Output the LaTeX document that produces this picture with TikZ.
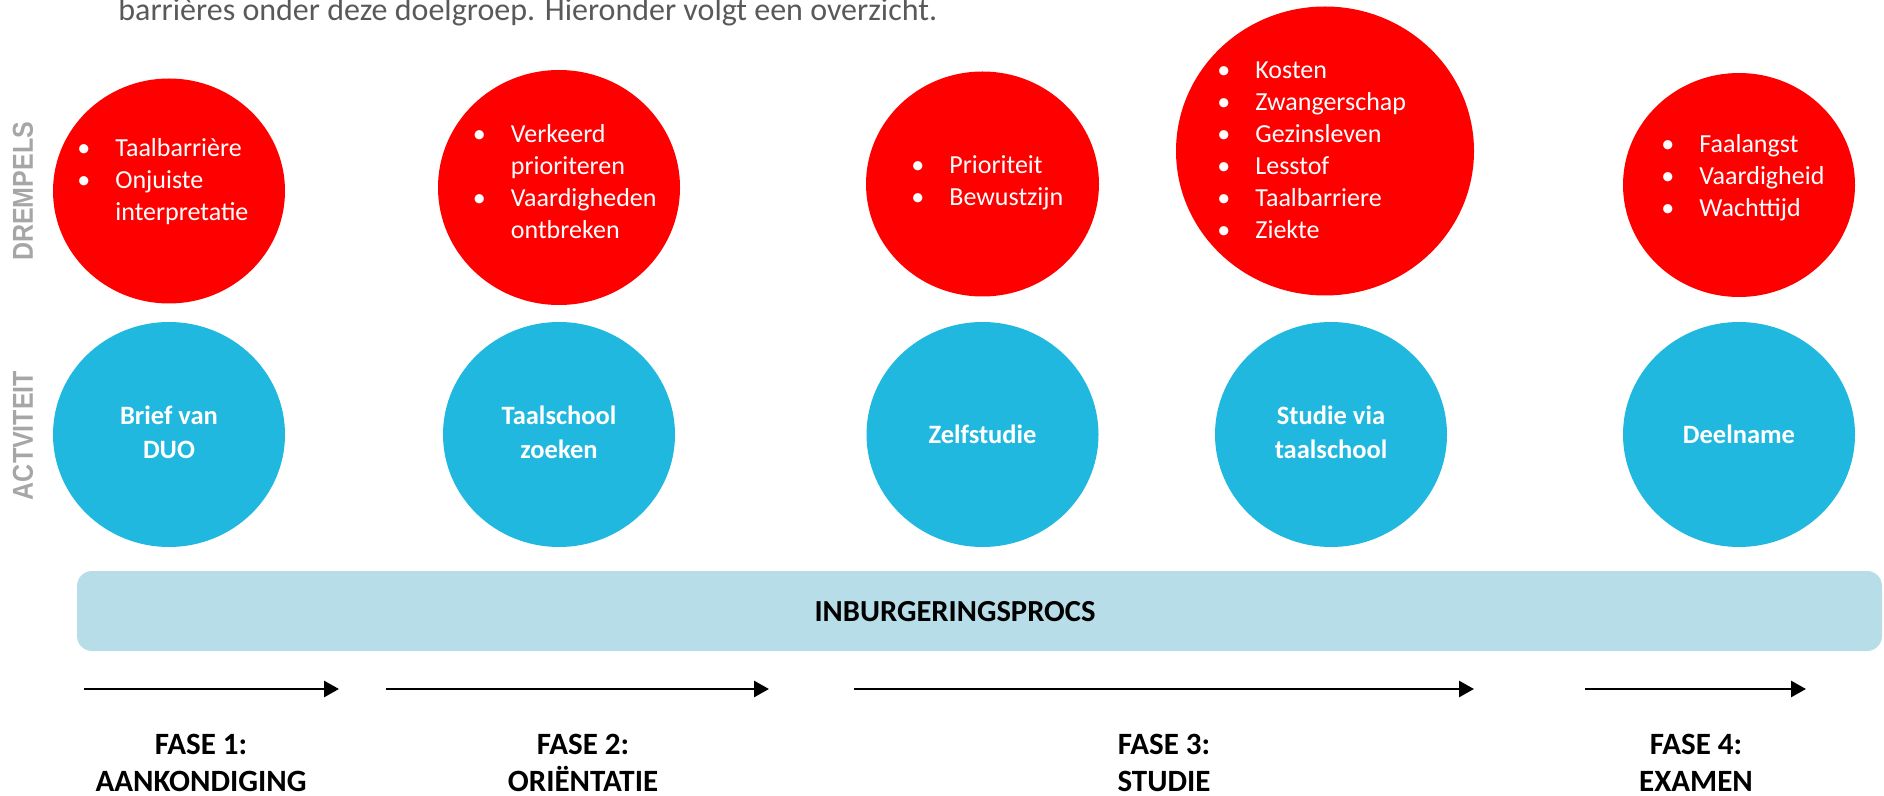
\documentclass[tikz,border=0pt]{standalone}
\usepackage{fontspec}
\setmainfont{Carlito}
\newfontfamily\zijfont{Liberation Sans}
\usetikzlibrary{arrows.meta,shapes.geometric}
\definecolor{drempelrood}{HTML}{FF0000}
\definecolor{activiteitblauw}{HTML}{21B8E0}
\definecolor{balkblauw}{HTML}{B7DEE8}
\definecolor{labelgrijs}{HTML}{A6A6A6}
\definecolor{tekstgrijs}{HTML}{595959}
\newcommand{\punt}{\makebox[19pt][l]{\textbullet}}
\newcommand{\geenpunt}{\hspace*{19pt}}
\newcommand{\regels}[1]{\begin{tabular}[t]{@{}l@{}}#1\end{tabular}}
\newcommand{\midden}[1]{\begin{tabular}[t]{@{}c@{}}#1\end{tabular}}
\newcommand{\hoog}[1]{\scalebox{1}[1.15]{#1}}
\tikzset{
  drempel/.style={ellipse, fill=drempelrood, inner sep=0pt},
  activiteit/.style={ellipse, fill=activiteitblauw, inner sep=0pt, text=white,
    minimum width=116pt, minimum height=112.5pt, font=\bfseries\fontsize{13.25}{17}\selectfont},
  lijst/.style={anchor=base west, inner sep=0pt, text=white, font=\fontsize{13}{16}\selectfont},
  rij/.style={rotate=90, text=labelgrijs, inner sep=0pt, font=\zijfont\bfseries\fontsize{12.5}{15}\selectfont},
  fase/.style={anchor=base, inner sep=0pt, font=\bfseries\fontsize{15.5}{18.5}\selectfont},
  pijl/.style={line width=1.4pt, -{Triangle[length=7.5pt,width=8pt]}}
}
\begin{document}
\begin{tikzpicture}[x=0.5pt,y=-0.5pt]
    \useasboundingbox (0,0) rectangle (1884,796);
    % inleidende tekst
    \node [anchor=base west, inner sep=0pt, text=tekstgrijs, font=\fontsize{16}{19}\selectfont] (inleiding) at (118,21) {barrières onder deze doelgroep. Hieronder volgt een overzicht.};
    % rijen
    \node [rij] (drempels) at (23,191.5) {\hoog{DREMPELS}};
    \node [rij] (activiteit) at (23,435.5) {\hoog{ACTVITEIT}};
    % drempels
    \node [drempel, minimum width=116pt, minimum height=112.5pt] (d1) at (169,191) {};
    \node [drempel, minimum width=121pt, minimum height=117.5pt] (d2) at (559,187.5) {};
    \node [drempel, minimum width=116.5pt, minimum height=112.5pt] (d3) at (982.5,184) {};
    \node [drempel, minimum width=149pt, minimum height=144.5pt] (d4) at (1325,151) {};
    \node [drempel, minimum width=116pt, minimum height=112pt] (d5) at (1739,185) {};
    \node [lijst] (l1) at (77,157) {\regels{\punt Taalbarrière\\ \punt Onjuiste\\ \geenpunt interpretatie}};
    \node [lijst] (l2) at (472.5,143) {\regels{\punt Verkeerd\\ \geenpunt prioriteren\\ \punt Vaardigheden\\ \geenpunt ontbreken}};
    \node [lijst] (l3) at (911,174) {\regels{\punt Prioriteit\\ \punt Bewustzijn}};
    \node [lijst] (l4) at (1217,79) {\regels{\punt Kosten\\ \punt Zwangerschap\\ \punt Gezinsleven\\ \punt Lesstof\\ \punt Taalbarriere\\ \punt Ziekte}};
    \node [lijst] (l5) at (1661,153) {\regels{\punt Faalangst\\ \punt Vaardigheid\\ \punt Wachttijd}};
    % activiteiten
    \node [activiteit] (a1) at (169,434.5) {\midden{Brief van\\ DUO}};
    \node [activiteit] (a2) at (559,434.5) {\midden{Taalschool\\ zoeken}};
    \node [activiteit] (a3) at (982.5,434.5) {Zelfstudie};
    \node [activiteit] (a4) at (1331,434.5) {\midden{Studie via\\ taalschool}};
    \node [activiteit] (a5) at (1739,434.5) {Deelname};
    % balk
    \node [fill=balkblauw, rounded corners=7.5pt, minimum width=902.5pt, minimum height=40pt, inner sep=0pt] (balk) at (979.5,611) {};
    \node [inner sep=0pt, font=\bfseries\fontsize{15.3}{18}\selectfont] (proces) at (955,612) {INBURGERINGSPROCS};
    % fasen
    \coordinate (f1a) at (84,689);
    \coordinate (f1b) at (339,689);
    \coordinate (f2a) at (386,689);
    \coordinate (f2b) at (769,689);
    \coordinate (f3a) at (854,689);
    \coordinate (f3b) at (1474,689);
    \coordinate (f4a) at (1585,689);
    \coordinate (f4b) at (1806,689);
    \draw [pijl] (f1a)--(f1b);
    \draw [pijl] (f2a)--(f2b);
    \draw [pijl] (f3a)--(f3b);
    \draw [pijl] (f4a)--(f4b);
    \node [fase] (fase1) at (201,754) {\midden{FASE 1:\\ AANKONDIGING}};
    \node [fase] (fase2) at (583,754) {\midden{FASE 2:\\ ORIËNTATIE}};
    \node [fase] (fase3) at (1164,754) {\midden{FASE 3:\\ STUDIE}};
    \node [fase] (fase4) at (1696,754) {\midden{FASE 4:\\ EXAMEN}};
\end{tikzpicture}
\end{document}
